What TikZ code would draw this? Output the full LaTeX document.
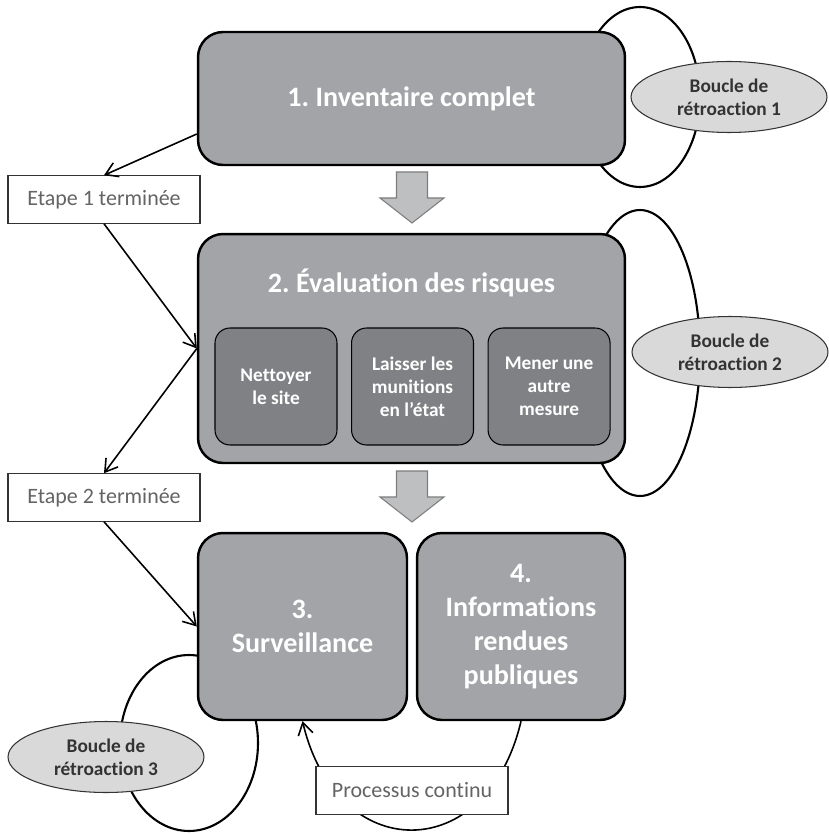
\documentclass[tikz,border=0pt]{standalone}
\usepackage{fontspec}
\setmainfont{Carlito}[Ligatures={NoCommon}]
\frenchspacing
\usepackage{tikz}
\usetikzlibrary{shapes.geometric, arrows.meta, positioning}
\definecolor{boxgray}{RGB}{163,164,167}
\definecolor{subgray}{RGB}{128,129,132}
\definecolor{ellgray}{RGB}{217,217,217}
\definecolor{arrowgray}{RGB}{190,191,193}
\definecolor{arrowedge}{RGB}{125,125,125}
\definecolor{notegray}{RGB}{100,100,100}
\tikzstyle{stage} =
[rectangle, rounded corners = 0.5cm, minimum width = 8.54cm, text centered,
align = center, draw=black, line width = 1.4pt, fill=boxgray, text=white,
font=\bfseries\fontsize{16}{19.5}\selectfont]
\tikzstyle{option} =
[rectangle, rounded corners = 0.3cm, minimum width = 2.44cm, minimum height = 2.34cm,
text centered, align = center, inner sep = 0pt, draw=black, line width = 0.6pt,
fill=subgray, text=white, font=\bfseries\fontsize{11}{13}\selectfont]
\tikzstyle{note} =
[rectangle, minimum width = 3.84cm, minimum height = 0.95cm, text centered,
draw=black!80, line width = 0.6pt, fill=white, text=notegray,
font=\fontsize{12.5}{15}\selectfont]
\tikzstyle{feedback} =
[ellipse, minimum width = 3.92cm, minimum height = 1.42cm, text centered,
align = center, inner sep = 0pt, draw=black!80, line width = 0.6pt,
fill=ellgray, text=black!80, font=\bfseries\fontsize{11}{13}\selectfont]
\tikzstyle{line} = [draw, line width = 0.9pt, -{Straight Barb[length=2.4mm, width=3mm]}]
\tikzstyle{loopline} = [draw, line width = 1.2pt]
\tikzstyle{blockarrow} = [draw=arrowedge, fill=arrowgray, line width = 0.6pt]
\begin{document}
\begin{tikzpicture}[x=0.02cm, y=-0.02cm]
  \useasboundingbox (0,0) rectangle (828,834);
  % feedback loops (behind the boxes)
  \path [loopline] (640,97) ellipse [x radius=1.2cm, y radius=1.8cm];
  \path [loopline] (640,353) ellipse [x radius=1.2cm, y radius=2.86cm];
  \path [loopline] (189,743) ellipse [x radius=1.38cm, y radius=1.76cm];
  %
  % stage nodes
  \node [stage, minimum height = 2.66cm] (inv) at (411.5,98.5) {1. Inventaire complet};
  \node [stage, minimum height = 4.58cm] (eval) at (411.5,348.5) {};
  \node [text=white, font=\bfseries\fontsize{16}{19.5}\selectfont] (evaltitle)
   at (411.5,283) {2. Évaluation des risques};
  \node [option] (clean) at (276,386.5) {Nettoyer\\le site};
  \node [option, right=0.27cm of clean] (leave) {Laisser les\\munitions\\en l’état};
  \node [option, right=0.27cm of leave] (other) {Mener une\\autre\\mesure};
  \node [stage, minimum width = 4.18cm, minimum height = 3.74cm] (watch)
   at (302.5,626.5) {3.\\Surveillance};
  \node [stage, minimum width = 4.16cm, minimum height = 3.74cm] (public)
   at (521,626.5) {4.\\Informations\\rendues\\publiques};
  % block arrows between stages
  \foreach \t in {172,471}
    \draw [blockarrow] (396.5,\t) -- ++(31,0) -- ++(0,26) -- ++(16.5,0)
     -- ++(-32,25) -- ++(-32,-25) -- ++(16.5,0) -- cycle;
  %
  % milestone nodes and edges
  \node [note] (done1) at (104,199.5) {Etape 1 terminée};
  \node [note] (done2) at (104,497.5) {Etape 2 terminée};
  \path [line] ([yshift=-0.71cm]inv.west) -- (done1.north);
  \path [line] (done1.south) -- (eval.west);
  \path [line] (eval.west) -- (done2.north);
  \path [line] (done2.south) -- (watch.west);
  %
  % continuous process
  \path [line, {Straight Barb[length=2.4mm, width=3mm]}-] (watch.south)
   .. controls (337,866) and (487,866) .. (public.south);
  \node [note] (cont) at (412,790.5) {Processus continu};
  %
  % feedback labels
  \node [feedback] (fb1) at (729,97) {Boucle de\\rétroaction 1};
  \node [feedback] (fb2) at (730,352) {Boucle de\\rétroaction 2};
  \node [feedback] (fb3) at (106,757) {Boucle de\\rétroaction 3};
\end{tikzpicture}
\end{document}
